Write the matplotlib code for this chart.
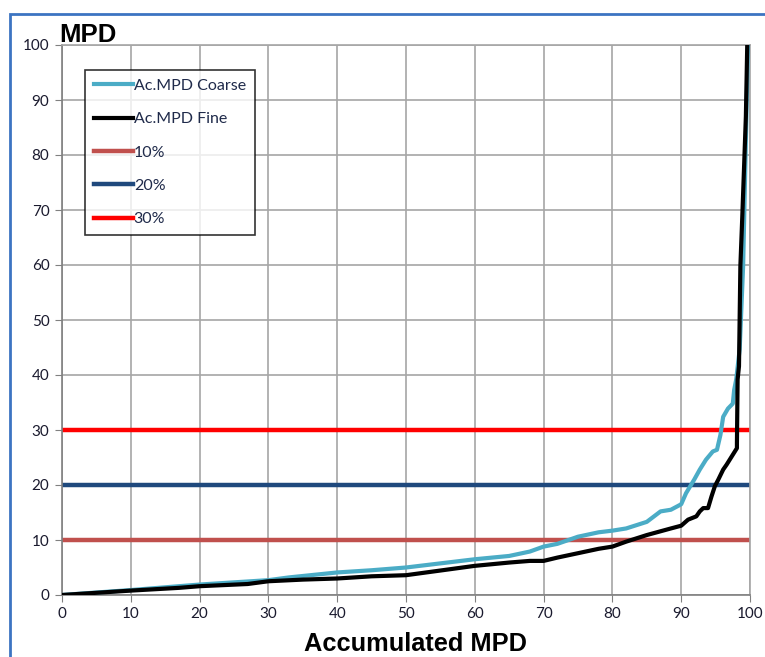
import matplotlib
matplotlib.use("Agg")
import matplotlib.pyplot as plt
from matplotlib.patches import Rectangle

coarse_x = [0, 10, 17, 20, 30, 33, 40, 45, 50, 60, 65, 68, 70, 72, 75, 78, 80, 82, 85, 87, 88.5,
            90, 90.7, 91.9, 92.7, 93.6, 94.6, 95.2, 95.7, 96.1, 96.8, 97.5, 97.7, 98.0, 98.5, 99.0, 99.7]
coarse_y = [0, 0.9, 1.6, 1.9, 2.7, 3.2, 4.1, 4.5, 5.0, 6.5, 7.1, 7.9, 8.8, 9.3, 10.6, 11.4, 11.7, 12.1, 13.3, 15.2, 15.5,
            16.5, 18.5, 21.0, 22.8, 24.6, 26.1, 26.4, 29.1, 32.4, 33.9, 34.8, 37.3, 39.2, 44.7, 59.8, 100]

fine_x = [0, 10, 17, 20, 27, 30, 35, 40, 45, 50, 60, 65, 68, 70, 72, 75, 78, 80, 82, 85, 88.5,
          90, 91, 92.2, 92.7, 93.2, 93.9, 94.4, 94.9, 95.4, 96.1, 96.6, 97.5, 98.1, 98.1, 98.2, 98.4, 98.6, 98.9, 99.4, 99.6]
fine_y = [0, 0.8, 1.3, 1.6, 2.0, 2.5, 2.8, 3.0, 3.4, 3.6, 5.3, 5.9, 6.2, 6.2, 6.8, 7.6, 8.4, 8.8, 9.7, 10.9, 12.1,
          12.6, 13.7, 14.3, 15.2, 15.8, 15.8, 17.9, 19.8, 21.0, 22.8, 23.7, 25.5, 26.7, 27.6, 39.2, 41.6, 59.8, 69.5, 87, 100]

thresholds = [10, 20, 30]
threshold_labels = ["10%", "20%", "30%"]
threshold_colors = ["#C0504D", "#1F497D", "#FF0000"]

x_ticks = list(range(0, 101, 10))
y_ticks = list(range(0, 101, 10))

plt.rcParams['font.family'] = ['Lato', 'DejaVu Sans']

fig = plt.figure(figsize=(7.65, 6.57), dpi=100)
ax = fig.add_axes([62/765, 62/657, (750-62)/765, (595-45)/657])

# figure border
fig.patches.append(Rectangle((10/765, -0.05), 1.2, (657-14)/657 + 0.05, transform=fig.transFigure,
                             fill=False, edgecolor="#3C74C2", linewidth=2.0, zorder=0))

ax.plot(coarse_x, coarse_y, color="#4BACC6", lw=3, label="Ac.MPD Coarse", zorder=3)
ax.plot(fine_x, fine_y, color="#000000", lw=3, label="Ac.MPD Fine", zorder=4)
for t, lab, c in zip(thresholds, threshold_labels, threshold_colors):
    ax.axhline(t, color=c, lw=3.2, label=lab, zorder=2)

ax.set_xlim(0, 100)
ax.set_ylim(0, 100)
ax.set_xticks(x_ticks)
ax.set_yticks(y_ticks)
ax.grid(True, color="#A6A6A6", lw=1.2)
ax.set_axisbelow(True)
for s in ax.spines.values():
    s.set_color("#A6A6A6")
    s.set_linewidth(1.2)
ax.spines['left'].set_color("#808080")
ax.spines['bottom'].set_color("#808080")
ax.tick_params(axis='both', direction='out', length=5, color="#808080", labelsize=11,
               labelcolor="#1a1a2e", pad=4)

ax.set_xlabel("Accumulated MPD", fontsize=18.3, fontweight='bold', family=['Liberation Sans', 'DejaVu Sans'])
ax.xaxis.set_label_coords((416 - 62) / 688, -(632 - 595) / 550)
fig.text(59/765, 1 - 35/657, "MPD", fontsize=18.5, fontweight='bold', family=['Liberation Sans', 'DejaVu Sans'],
         va='center', ha='left')

leg = ax.legend(loc='upper left', bbox_to_anchor=(23/688, 1 - 25/550), frameon=True, fancybox=False,
                edgecolor="#000000", fontsize=11.5, handlelength=2.45, handletextpad=0.05,
                labelspacing=1.2, borderpad=0.55, borderaxespad=0)
leg.get_frame().set_linewidth(1.2)
for t in leg.get_texts():
    t.set_color("#1F2A4A")

fig.savefig("out.png", dpi=100)
